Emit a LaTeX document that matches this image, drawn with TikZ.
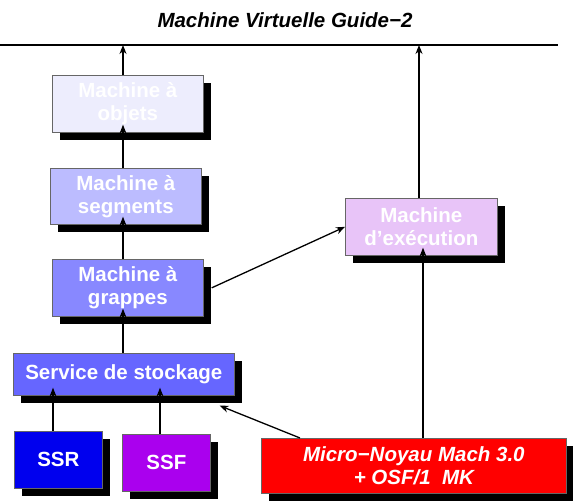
\documentclass[tikz,border=0pt]{standalone}
\usepackage{fontspec}
\setmainfont{Liberation Sans}
\usetikzlibrary{arrows.meta,shadows,calc}
\definecolor{cobj}{HTML}{EDEDFD}
\definecolor{cseg}{HTML}{BCBCFF}
\definecolor{cgra}{HTML}{8888FF}
\definecolor{csto}{HTML}{6666FF}
\definecolor{cssr}{HTML}{0000EE}
\definecolor{cssf}{HTML}{AA00EE}
\definecolor{cexe}{HTML}{E8C4F8}
\definecolor{cmic}{HTML}{FF0000}
\tikzset{
  box/.style={draw=gray!80!black, line width=0.7pt, anchor=north west, inner sep=0pt,
    align=center, text=white, font=\fontsize{20.5}{23}\selectfont\bfseries,
    drop shadow={shadow xshift=8pt, shadow yshift=-8pt, opacity=1, fill=black}},
  arr/.style={line width=1.3pt, -{Stealth[length=9pt,width=7pt]}}
}
\begin{document}
\begin{tikzpicture}[x=1pt,y=-1pt]
\useasboundingbox (0,0) rectangle (573,502);
\node[font=\fontsize{20.5}{23}\selectfont\bfseries\itshape] (title) at (285,20) {Machine Virtuelle Guide−2};
\coordinate (L1) at (0,45);
\coordinate (L2) at (558,45);
\draw[line width=2pt] (L1) -- (L2);

\node[box, fill=cobj, minimum width=151pt, minimum height=57pt] (obj) at (52,75) {Machine à\\objets};
\node[box, fill=cseg, minimum width=151pt, minimum height=56pt] (seg) at (50,168) {Machine à\\segments};
\node[box, fill=cgra, minimum width=151pt, minimum height=57pt] (gra) at (52,259) {Machine à\\grappes};
\node[box, fill=csto, minimum width=221pt, minimum height=42pt] (sto) at (13,353) {Service de stockage};
\node[box, fill=cssr, minimum width=88pt, minimum height=57pt] (ssr) at (14,431) {SSR};
\node[box, fill=cssf, minimum width=88pt, minimum height=57pt] (ssf) at (122,434) {SSF};
\node[box, fill=cexe, minimum width=152pt, minimum height=57pt] (exe) at (345,198) {Machine\\d’exécution};
\node[box, fill=cmic, minimum width=305pt, minimum height=55pt, font=\fontsize{20.5}{23}\selectfont\bfseries\itshape] (mic) at (261,438) {Micro−Noyau Mach 3.0\\+ OSF/1\ \ MK};

\coordinate (ax) at (123,0);
\coordinate (ex) at (419,0);
\draw[arr] (obj.north -| ax) -- (L1 -| ax);
\draw[arr] (seg.north -| ax) -- ([yshift=8pt]obj.south -| ax);
\draw[arr] (gra.north -| ax) -- ([yshift=8pt]seg.south -| ax);
\draw[arr] (sto.north -| ax) -- ([yshift=8pt]gra.south -| ax);
\draw[arr] (ssr.north -| 53,0) -- ([yshift=8pt]sto.south -| 53,0);
\draw[arr] (ssf.north -| 160,0) -- ([yshift=8pt]sto.south -| 160,0);
\draw[arr] (mic.north -| 300,0) -- ($(sto.south east)+(-15,10)$);
\draw[arr] (mic.north -| 423,0) -- ([yshift=8pt]exe.south -| 423,0);
\draw[arr] ([xshift=8pt]gra.east) -- (exe.west);
\draw[arr] (exe.north -| ex) -- (L1 -| ex);
\end{tikzpicture}
\end{document}
